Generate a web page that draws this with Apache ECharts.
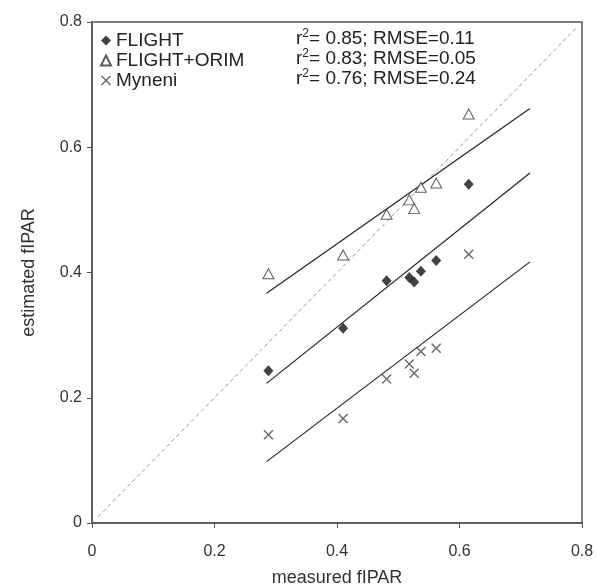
<!DOCTYPE html>
<html><head><meta charset="utf-8">
<script src="https://cdn.jsdelivr.net/npm/echarts@6/dist/echarts.min.js"></script>
<style>html,body{margin:0;padding:0;background:#fff}#c{width:597px;height:588px}</style>
</head><body><div id="c"></div>
<script>
// measured fIPAR (x) shared by all three series
const measured = [0.288, 0.410, 0.481, 0.518, 0.526, 0.537, 0.562, 0.615];
const flight = [0.243, 0.311, 0.387, 0.392, 0.385, 0.402, 0.419, 0.541];
const flightOrim = [0.398, 0.428, 0.493, 0.516, 0.502, 0.536, 0.543, 0.653];
const myneni = [0.141, 0.167, 0.230, 0.254, 0.239, 0.274, 0.279, 0.429];
// regression line end points
const fitX = [0.285, 0.715];
const fitFlight = [0.223, 0.559];
const fitOrim = [0.367, 0.662];
const fitMyneni = [0.098, 0.417];
const oneToOne = [0.01, 0.79];
const seriesNames = ['FLIGHT', 'FLIGHT+ORIM', 'Myneni'];
const r2 = ['0.85', '0.83', '0.76'];
const rmse = ['0.11', '0.05', '0.24'];

const crossPath = 'path://M0,1 L1,0 L5,4 L9,0 L10,1 L6,5 L10,9 L9,10 L5,6 L1,10 L0,9 L4,5 Z';
const pts = ys => measured.map((x, i) => [x, ys[i]]);
const seg = ys => fitX.map((x, i) => [x, ys[i]]);
const lineSer = d => ({type:'line', data:d, symbol:'none', silent:true, z:1,
  lineStyle:{color:'#222', width:1.2}});

const chart = echarts.init(document.getElementById('c'));
const textCol = '#333';
chart.setOption({
  animation: false,
  grid: {left: 92, right: 15, top: 22, bottom: 65, show: true, borderColor: '#555', borderWidth: 1.5,
    containLabel: false, outerBoundsMode: 'none'},
  xAxis: {type:'value', min:0, max:0.8, interval:0.2,
    name:'measured fIPAR', nameLocation:'middle', nameGap:46,
    nameTextStyle:{fontSize:18, color:textCol, fontFamily:'Liberation Sans'},
    axisLine:{show:true, onZero:false, lineStyle:{color:'#555', width:1.5}},
    axisTick:{show:true, length:5, lineStyle:{color:'#555'}},
    axisLabel:{fontSize:16, color:textCol, margin:21, fontFamily:'Liberation Sans',
      formatter: v => v === 0 ? '0' : v.toFixed(1)},
    splitLine:{show:false}},
  yAxis: {type:'value', min:0, max:0.8, interval:0.2,
    name:'estimated fIPAR', nameLocation:'middle', nameGap:54,
    nameTextStyle:{fontSize:18, color:textCol, fontFamily:'Liberation Sans'},
    axisLine:{show:true, onZero:false, lineStyle:{color:'#555', width:1.5}},
    axisTick:{show:true, length:5, lineStyle:{color:'#555'}},
    axisLabel:{fontSize:16, color:textCol, margin:10, fontFamily:'Liberation Sans',
      formatter: v => v === 0 ? '0' : v.toFixed(1)},
    splitLine:{show:false}},
  legend: {orient:'vertical', left:95, top:26, itemGap:1, itemWidth:10, itemHeight:10,
    data: seriesNames,
    textStyle:{fontSize:19, color:'#222', fontFamily:'Liberation Sans'}},
  graphic: r2.map((v, i) => ({type:'text', left:296, top:28 + i*20, z:10,
    style:{text:'r{s|2}= ' + v + '; RMSE=' + rmse[i], fontSize:19, fill:'#222',
      fontFamily:'Liberation Sans',
      rich:{s:{fontSize:12, verticalAlign:'top', padding:[0,0,10,0], fill:'#222'}}}})),
  series: [
    {type:'line', data:[[oneToOne[0], oneToOne[0]], [oneToOne[1], oneToOne[1]]], symbol:'none', silent:true, z:0,
      lineStyle:{color:'#999', width:1, type:[4,3]}},
    lineSer(seg(fitFlight)), lineSer(seg(fitOrim)), lineSer(seg(fitMyneni)),
    {name:seriesNames[0], type:'scatter', data:pts(flight), symbol:'diamond', symbolSize:[10,11], z:5,
      itemStyle:{color:'#111'}},
    {name:seriesNames[1], type:'scatter', data:pts(flightOrim), symbol:'triangle', symbolSize:[11,10], z:5,
      itemStyle:{color:'#fff', borderColor:'#333', borderWidth:1}},
    {name:seriesNames[2], type:'scatter', data:pts(myneni), symbol:crossPath, symbolSize:10, z:5,
      itemStyle:{color:'#444'}}
  ]
});
</script></body></html>
